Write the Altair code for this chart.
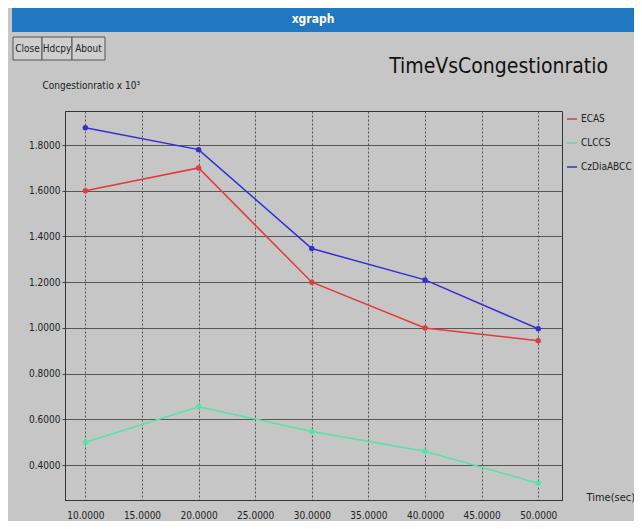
import altair as alt
import pandas as pd

# ---- data ----
time_sec = [10, 20, 30, 40, 50]
ecas = [1.60, 1.70, 1.20, 1.00, 0.944]
clccs = [0.50, 0.655, 0.547, 0.46, 0.32]
czdia = [1.876, 1.78, 1.347, 1.21, 0.996]
series_names = ["ECAS", "CLCCS", "CzDiaABCC"]
series_colors = ["#e23b3b", "#55e3a6", "#2f2fd6"]
x_ticks = [10, 15, 20, 25, 30, 35, 40, 45, 50]
y_ticks = [0.4, 0.6, 0.8, 1.0, 1.2, 1.4, 1.6, 1.8]
buttons_text = ["Close", "Hdcpy", "About"]
main_title = ["TimeVsCongestionratio"]

rows = []
for name, vals in zip(series_names, [ecas, clccs, czdia]):
    for t, v in zip(time_sec, vals):
        rows.append({"Time": t, "Ratio": v, "Series": name})
df = pd.DataFrame(rows)

FONT = "'DejaVu Sans Condensed', 'Liberation Sans Narrow', 'Liberation Sans', sans-serif"
BG = "#c6c6c6"
W, H = 497, 389

cscale = alt.Scale(domain=series_names, range=series_colors)
color = alt.Color(
    "Series:N",
    scale=cscale,
    legend=alt.Legend(
        title=None, orient="none", legendX=501, legendY=2,
        symbolType="stroke", symbolSize=100, symbolStrokeWidth=1.5,
        labelFont=FONT, labelFontSize=10, labelColor="#222",
        labelOffset=3, rowPadding=13, labelLimit=58,
    ),
)

xenc = alt.X(
    "Time:Q",
    scale=alt.Scale(domain=[8.2, 52.1], nice=False, zero=False),
    axis=alt.Axis(
        values=x_ticks, format=".4f", title="Time(sec)",
        titleX=521, titleY=-3, titleAlign="left", titleBaseline="middle",
        titleFont=FONT, titleFontSize=11, titleFontWeight="normal", titleColor="#222",
        labelFont=FONT, labelFontSize=10, labelColor="#222", labelPadding=10,
        tickSize=0, domainColor="#333",
        grid=True, gridColor="#444", gridDash=[2, 2], gridOpacity=0.9,
    ),
)
yenc = alt.Y(
    "Ratio:Q",
    scale=alt.Scale(domain=[0.247, 1.949], nice=False, zero=False),
    axis=alt.Axis(
        values=y_ticks, format=".4f", title="Congestionratio x 10³",
        titleX=-23, titleY=-26, titleAngle=0, titleAlign="left", titleBaseline="middle",
        titleFont=FONT, titleFontSize=10, titleFontWeight="normal", titleColor="#222",
        labelFont=FONT, labelFontSize=10, labelColor="#222", labelPadding=2,
        tickSize=3, tickColor="#444", domainColor="#333",
        grid=True, gridColor="#4a4a4a", gridOpacity=0.9,
    ),
)

base = alt.Chart(df)
lines = base.mark_line(strokeWidth=1.5).encode(x=xenc, y=yenc, color=color, detail="Series:N")
points = base.mark_circle(size=30, opacity=1).encode(
    x=xenc, y=yenc, color=alt.Color("Series:N", scale=cscale, legend=None))

# window chrome and heading (decoration, not data)
bar = alt.Chart(pd.DataFrame({"k": [0]})).mark_rect(color="#1f78c1").encode(
    x=alt.value(-53), x2=alt.value(571), y=alt.value(-103), y2=alt.value(-79))
bar_text = alt.Chart(pd.DataFrame({"t": ["xgraph"]})).mark_text(
    color="white", font=FONT, fontSize=12, fontWeight="bold").encode(
    text="t:N", x=alt.value(248), y=alt.value(-92))
btn_layers = []
for label, bx, bw in zip(buttons_text, [-52, -23, 7], [29, 30, 33]):
    d = pd.DataFrame({"b": [label]})
    btn_layers.append(alt.Chart(d).mark_rect(fill="#cfcfcf", stroke="#555", strokeWidth=1).encode(
        x=alt.value(bx), x2=alt.value(bx + bw), y=alt.value(-74), y2=alt.value(-51)))
    btn_layers.append(alt.Chart(d).mark_text(font=FONT, fontSize=10, color="#222").encode(
        text="b:N", x=alt.value(bx + bw / 2), y=alt.value(-62)))
heading = alt.Chart(pd.DataFrame({"t": main_title})).mark_text(
    font=FONT, fontSize=21, color="#111", align="right", baseline="alphabetic").encode(
    text="t:N", x=alt.value(543), y=alt.value(-38))

chart = alt.layer(bar, bar_text, *btn_layers, heading, lines, points).properties(
    width=W, height=H,
    background=BG,
    padding={"left": 57, "top": 103, "right": 72, "bottom": 21},
    autosize=alt.AutoSizeParams(type="none"),
).configure_view(fill=BG, stroke="#333", strokeWidth=1)

chart.save("out.html", embed_options={"renderer": "svg", "actions": False})
